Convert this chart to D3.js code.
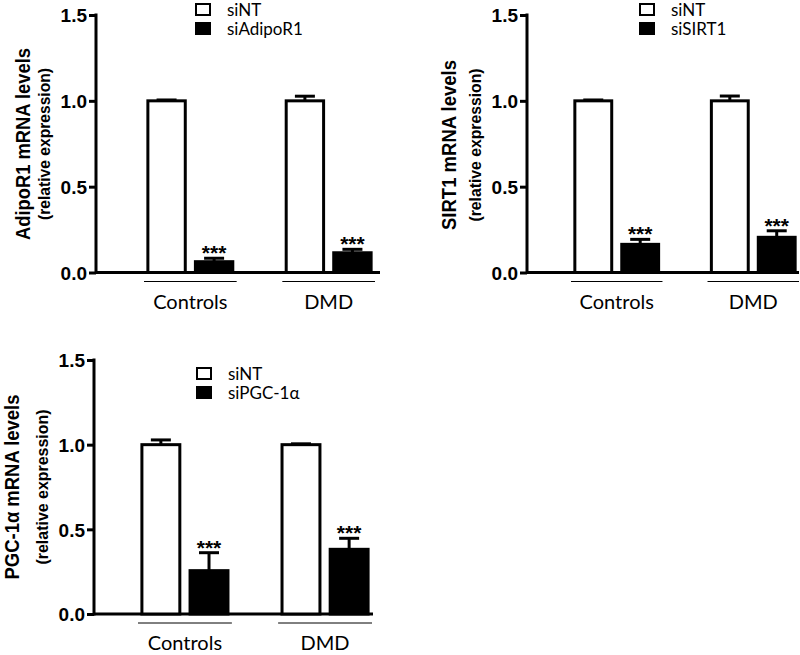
<!DOCTYPE html>
<html>
<head>
<meta charset="utf-8">
<script src="https://cdn.jsdelivr.net/npm/d3@7"></script>
<style>
  html, body { margin: 0; padding: 0; background: #fff; }
  svg { display: block; }
  .tick-label { font-family: "Liberation Sans", Arial, sans-serif; font-weight: bold; font-size: 19px; }
  .ylab { font-family: "Liberation Sans", Arial, sans-serif; font-weight: bold; }
  .cat { font-family: Lato, "Open Sans", sans-serif; font-size: 20px; }
  .leg { font-family: Lato, "Open Sans", sans-serif; font-size: 17px; }
  .star { font-family: "Liberation Sans", Arial, sans-serif; font-weight: bold; font-size: 21px; }
</style>
</head>
<body>
<svg id="chart" width="800" height="655"></svg>
<script>
// ---- data ----
const categories = ["Controls", "DMD"];
const yTicks = [0.0, 0.5, 1.0, 1.5];

const adipoSeries = ["siNT", "siAdipoR1"];
const adipoSiNT = [1.0, 1.0];
const adipoSiNTErr = [0.005, 0.027];
const adipoKD = [0.063, 0.115];
const adipoKDErr = [0.02, 0.02];

const sirtSeries = ["siNT", "siSIRT1"];
const sirtSiNT = [1.0, 1.0];
const sirtSiNTErr = [0.005, 0.028];
const sirtKD = [0.164, 0.205];
const sirtKDErr = [0.029, 0.038];

const pgcSeries = ["siNT", "siPGC-1\u03B1"];
const pgcSiNT = [1.0, 1.0];
const pgcSiNTErr = [0.028, 0.005];
const pgcKD = [0.256, 0.382];
const pgcKDErr = [0.106, 0.065];

const stars = ["***", "***"];

const svg = d3.select("#chart");

function drawPanel(p) {
  const g = svg.append("g");
  const y = d3.scaleLinear().domain([0, 1.5]).range([p.y0, p.yTop]);
  const x0 = d3.scaleBand().domain(categories).range([p.gStart, p.gEnd]).paddingInner(0.33).paddingOuter(0);
  const x1 = d3.scaleBand().domain(p.series).range([0, x0.bandwidth()]).paddingInner(0.15).paddingOuter(0.05);

  // axes
  const yAxis = d3.axisLeft(y).tickValues(yTicks).tickFormat(d3.format(".1f")).tickSize(7).tickPadding(2);
  const ya = g.append("g").attr("transform", `translate(${p.axisX},0)`).call(yAxis);
  ya.select(".domain").remove();
  ya.selectAll(".tick line").attr("stroke", "#000").attr("stroke-width", 3);
  ya.selectAll(".tick text").attr("class", "tick-label").attr("fill", "#000").attr("dy", "0.36em");
  g.append("line").attr("x1", p.axisX).attr("x2", p.axisX).attr("y1", y(1.5) - 1.5).attr("y2", p.y0 + 1.5)
    .attr("stroke", "#000").attr("stroke-width", 3);
  g.append("line").attr("x1", p.axisX).attr("x2", p.xEnd).attr("y1", p.y0).attr("y2", p.y0)
    .attr("stroke", "#000").attr("stroke-width", 3);

  const rows = categories.map((c, i) => ({
    cat: c,
    vals: [
      { s: p.series[0], v: p.a[i], e: p.ae[i], fill: "#fff" },
      { s: p.series[1], v: p.b[i], e: p.be[i], fill: "#000", star: stars[i] }
    ]
  }));

  rows.forEach(r => {
    const gx = x0(r.cat);
    r.vals.forEach(d => {
      const bx = gx + x1(d.s);
      const bw = x1.bandwidth();
      // error bar
      g.append("line").attr("x1", bx + bw / 2).attr("x2", bx + bw / 2)
        .attr("y1", y(d.v)).attr("y2", y(d.v + d.e)).attr("stroke", "#000").attr("stroke-width", 3);
      g.append("line").attr("x1", bx + bw / 2 - 10).attr("x2", bx + bw / 2 + 10)
        .attr("y1", y(d.v + d.e)).attr("y2", y(d.v + d.e)).attr("stroke", "#000").attr("stroke-width", 3);
      // bar
      g.append("rect").attr("x", bx + 1.5).attr("width", bw - 3)
        .attr("y", y(d.v)).attr("height", p.y0 - y(d.v))
        .attr("fill", d.fill).attr("stroke", "#000").attr("stroke-width", 3);
      if (d.star) {
        g.append("text").attr("class", "star").attr("x", bx + bw / 2).attr("y", y(d.v + d.e) + 2)
          .attr("text-anchor", "middle").text(d.star);
      }
    });
    // group underline + label
    g.append("line").attr("x1", gx).attr("x2", gx + x0.bandwidth())
      .attr("y1", p.y0 + 9).attr("y2", p.y0 + 9).attr("stroke", "#000").attr("stroke-width", 1);
    g.append("text").attr("class", "cat").attr("x", gx + x0.bandwidth() / 2).attr("y", p.catY)
      .attr("text-anchor", "middle").text(r.cat);
  });

  // y labels
  g.append("text").attr("class", "ylab").attr("font-size", 20)
    .attr("textLength", p.len1).attr("lengthAdjust", "spacingAndGlyphs")
    .attr("transform", `translate(${p.lab1X},${p.labY}) rotate(-90)`)
    .attr("text-anchor", "middle").text(p.title);
  g.append("text").attr("class", "ylab").attr("font-size", 16)
    .attr("textLength", p.len2).attr("lengthAdjust", "spacingAndGlyphs")
    .attr("transform", `translate(${p.lab2X},${p.labY}) rotate(-90)`)
    .attr("text-anchor", "middle").text("(relative expression)");

  // legend
  p.series.forEach((s, i) => {
    g.append("rect").attr("x", p.legX).attr("y", p.legY + i * 19).attr("width", 14).attr("height", 11)
      .attr("fill", i === 0 ? "#fff" : "#000").attr("stroke", "#000").attr("stroke-width", 2);
    g.append("text").attr("class", "leg").attr("x", p.legX + 31).attr("y", p.legY + 12 + i * 19).text(s);
  });
}

drawPanel({
  title: "AdipoR1 mRNA levels", series: adipoSeries,
  a: adipoSiNT, ae: adipoSiNTErr, b: adipoKD, be: adipoKDErr,
  axisX: 96, y0: 272.5, yTop: 15, xEnd: 380, gStart: 144, gEnd: 375,
  catY: 309, lab1X: 30, lab2X: 50, labY: 144, len1: 192, len2: 152, legX: 196, legY: 4
});
drawPanel({
  title: "SIRT1 mRNA levels", series: sirtSeries,
  a: sirtSiNT, ae: sirtSiNTErr, b: sirtKD, be: sirtKDErr,
  axisX: 527, y0: 272.5, yTop: 15, xEnd: 799, gStart: 571, gEnd: 799,
  catY: 309, lab1X: 456, lab2X: 481, labY: 145, len1: 170, len2: 153, legX: 640, legY: 4
});
drawPanel({
  title: "PGC-1\u03B1 mRNA levels", series: pgcSeries,
  a: pgcSiNT, ae: pgcSiNTErr, b: pgcKD, be: pgcKDErr,
  axisX: 94, y0: 614, yTop: 360, xEnd: 373, gStart: 138, gEnd: 372,
  catY: 650, lab1X: 19, lab2X: 48, labY: 487, len1: 185, len2: 155, legX: 197, legY: 368
});
</script>
</body>
</html>
